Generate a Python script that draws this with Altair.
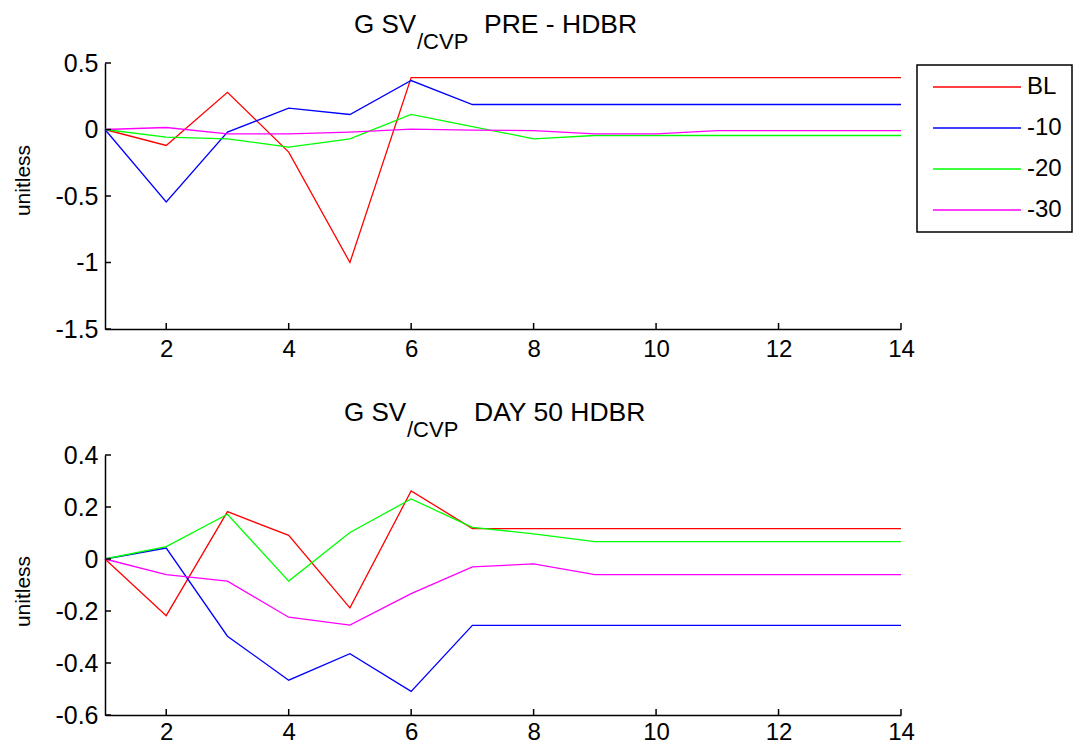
import altair as alt
import pandas as pd

# ---------------- data ----------------
days = list(range(1, 15))
series_names = ["BL", "-10", "-20", "-30"]
series_colors = ["#ff0000", "#0000ff", "#00ff00", "#ff00ff"]

pre_bl = [0, -0.12, 0.28, -0.17, -1.0, 0.39, 0.39, 0.39, 0.39, 0.39, 0.39, 0.39, 0.39, 0.39]
pre_m10 = [0, -0.545, -0.02, 0.16, 0.113, 0.368, 0.188, 0.188, 0.188, 0.188, 0.188, 0.188, 0.188, 0.188]
pre_m20 = [0, -0.058, -0.07, -0.133, -0.07, 0.113, 0.022, -0.07, -0.045, -0.045, -0.045, -0.045, -0.045, -0.045]
pre_m30 = [0, 0.015, -0.033, -0.033, -0.02, 0.003, -0.005, -0.008, -0.033, -0.033, -0.008, -0.008, -0.008, -0.008]

d50_bl = [0, -0.218, 0.182, 0.091, -0.188, 0.262, 0.117, 0.117, 0.117, 0.117, 0.117, 0.117, 0.117, 0.117]
d50_m10 = [0, 0.042, -0.297, -0.466, -0.364, -0.509, -0.255, -0.255, -0.255, -0.255, -0.255, -0.255, -0.255, -0.255]
d50_m20 = [0, 0.048, 0.172, -0.085, 0.102, 0.231, 0.122, 0.097, 0.067, 0.067, 0.067, 0.067, 0.067, 0.067]
d50_m30 = [0, -0.06, -0.085, -0.224, -0.254, -0.133, -0.03, -0.019, -0.06, -0.06, -0.06, -0.06, -0.06, -0.06]

x_tick_values = [2, 4, 6, 8, 10, 12, 14]
pre_y_ticks = [-1.5, -1, -0.5, 0, 0.5]
d50_y_ticks = [-0.6, -0.4, -0.2, 0, 0.2, 0.4]

title_main = "G SV"
title_sub = "/CVP"
pre_title_rest = "PRE - HDBR"
d50_title_rest = "DAY 50 HDBR"
y_title = "unitless"

FONT = "Liberation Sans, Arial, sans-serif"
W = 796


def long_df(series_lists):
    rows = []
    for name, vals in zip(series_names, series_lists):
        for d, v in zip(days, vals):
            rows.append({"day": d, "value": v, "series": name})
    return pd.DataFrame(rows)


def panel(series_lists, yticks, ydomain, H, rest, tx, ty, ytitle_y, show_legend, xlab_pad):
    df = long_df(series_lists)
    xs = alt.Scale(domain=[1, 14], nice=False, zero=False)
    ys = alt.Scale(domain=ydomain, nice=False, zero=False)

    x_axis = alt.Axis(values=x_tick_values, format="d", tickSize=0,
                      labelFontSize=24, labelFont=FONT, labelColor="black",
                      labelPadding=xlab_pad, labelFlush=False,
                      domainColor="black", domainWidth=1.5, grid=False)
    y_axis = alt.Axis(values=yticks, tickSize=0, labelFontSize=25,
                      labelFont=FONT, labelColor="black", labelPadding=7,
                      labelExpr="(datum.value < 0 ? '-' : '') + toString(abs(datum.value))",
                      domainColor="black", domainWidth=1.5, grid=False,
                      titleFont=FONT, titleFontSize=21, titleFontWeight="normal",
                      titleColor="black", titleX=-82, titleY=ytitle_y,
                      titleAngle=270, titleAlign="center",
                      titleBaseline="middle")

    if show_legend:
        legend = alt.Legend(
            title=None, orient="none", legendX=812, legendY=2,
            direction="vertical", symbolType="M-1.2,0H16.4", symbolSize=100,
            symbolStrokeWidth=1.3, labelFontSize=24, labelFont=FONT,
            labelColor="black", labelOffset=76, rowPadding=17, padding=10,
            strokeColor="black", fillColor="white",
        )
    else:
        legend = None

    lines = alt.Chart(df).mark_line(strokeWidth=1.3).encode(
        x=alt.X("day:Q", scale=xs, title=None, axis=x_axis),
        y=alt.Y("value:Q", scale=ys, title=y_title, axis=y_axis),
        color=alt.Color("series:N", scale=alt.Scale(domain=series_names, range=series_colors),
                        sort=series_names, legend=legend),
        order=alt.Order("day:Q"),
    )

    ytick_layer = alt.Chart(pd.DataFrame({"value": yticks})).mark_rule(
        color="black", strokeWidth=1.5).encode(
        y=alt.Y("value:Q", scale=ys, title=y_title, axis=y_axis),
        x=alt.value(0), x2=alt.value(6),
    )
    xtick_layer = alt.Chart(pd.DataFrame({"day": x_tick_values})).mark_rule(
        color="black", strokeWidth=1.5).encode(
        x=alt.X("day:Q", scale=xs, title=None, axis=x_axis),
        y=alt.value(H), y2=alt.value(H - 6),
    )

    t1 = alt.Chart(pd.DataFrame({"t": [title_main]})).mark_text(
        align="left", baseline="alphabetic", fontSize=26, font=FONT, color="black").encode(
        text="t:N", x=alt.value(tx), y=alt.value(ty))
    t2 = alt.Chart(pd.DataFrame({"t": [title_sub]})).mark_text(
        align="left", baseline="alphabetic", fontSize=22, font=FONT, color="black").encode(
        text="t:N", x=alt.value(tx + 63), y=alt.value(ty + 16))
    t3 = alt.Chart(pd.DataFrame({"t": [rest]})).mark_text(
        align="left", baseline="alphabetic", fontSize=26.5, font=FONT, color="black").encode(
        text="t:N", x=alt.value(tx + 130), y=alt.value(ty))

    return alt.layer(lines, ytick_layer, xtick_layer, t1, t2, t3).properties(width=W, height=H)


top = panel([pre_bl, pre_m10, pre_m20, pre_m30], pre_y_ticks, [-1.5, 0.5], 266,
            pre_title_rest, 249, -30, 117, True, 8)
bottom = panel([d50_bl, d50_m10, d50_m20, d50_m30], d50_y_ticks, [-0.6, 0.4], 260,
               d50_title_rest, 239, -34, 136, False, 5)

chart = alt.vconcat(top, bottom, spacing=126, bounds="flush").resolve_scale(
    x="independent", y="independent", color="independent"
).resolve_legend(color="independent").properties(
    padding={"left": 4, "top": 4, "right": 0, "bottom": 0}
).configure_view(stroke=None).configure_legend(strokeWidth=1.5)

chart.save("out.html", embed_options={"renderer": "svg", "actions": False})
